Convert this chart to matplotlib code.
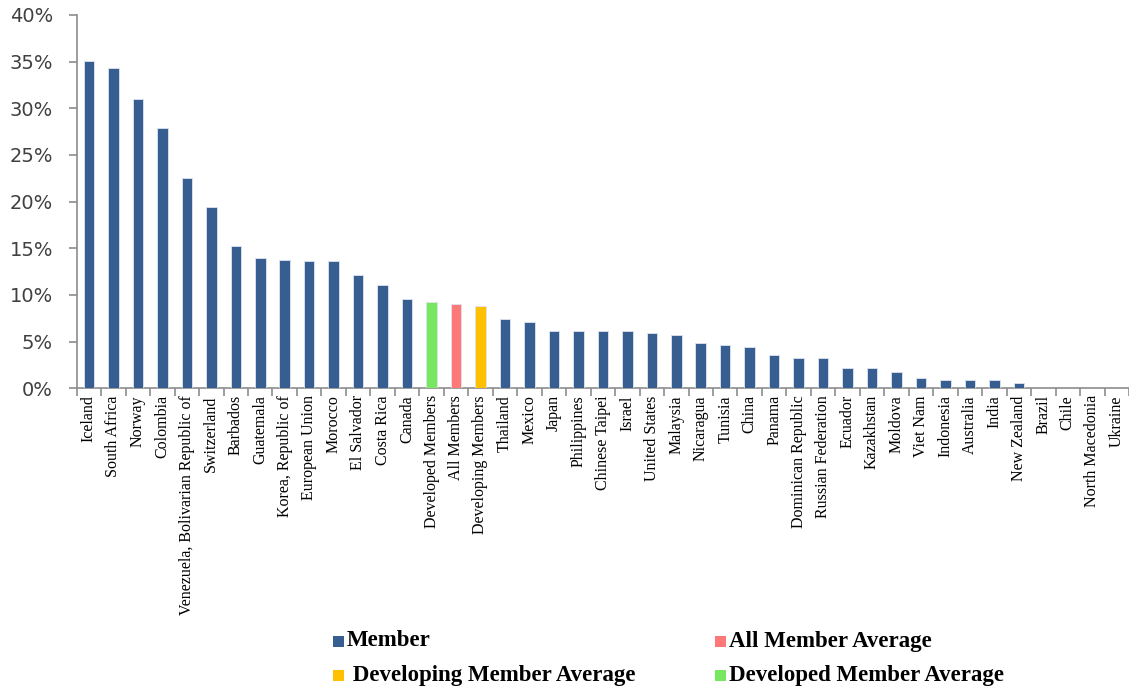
import matplotlib
matplotlib.use("Agg")
import matplotlib.pyplot as plt
from matplotlib.patches import Rectangle
from matplotlib.ticker import PercentFormatter, FixedLocator

categories = ["Iceland", "South Africa", "Norway", "Colombia",
              "Venezuela, Bolivarian Republic of", "Switzerland", "Barbados",
              "Guatemala", "Korea, Republic of", "European Union", "Morocco",
              "El Salvador", "Costa Rica", "Canada", "Developed Members",
              "All Members", "Developing Members", "Thailand", "Mexico", "Japan",
              "Philippines", "Chinese Taipei", "Israel", "United States",
              "Malaysia", "Nicaragua", "Tunisia", "China", "Panama",
              "Dominican Republic", "Russian Federation", "Ecuador", "Kazakhstan",
              "Moldova", "Viet Nam", "Indonesia", "Australia", "India",
              "New Zealand", "Brazil", "Chile", "North Macedonia", "Ukraine"]

values = [35.1, 34.3, 31.0, 27.9, 22.5, 19.4, 15.2, 14.0, 13.8, 13.6, 13.6,
          12.1, 11.1, 9.6, 9.2, 9.0, 8.8, 7.4, 7.15, 6.1, 6.1, 6.1, 6.1, 5.9,
          5.7, 4.9, 4.65, 4.45, 3.6, 3.2, 3.2, 2.15, 2.15, 1.75, 1.15, 0.93,
          0.93, 0.93, 0.55, 0.0, 0.0, 0.0, 0.0]

groups = ["Member"] * 14 + ["Developed", "All", "Developing"] + ["Member"] * 26

group_colors = {"Member": "#365E91", "All": "#FF7878",
                "Developing": "#FFC000", "Developed": "#77E661"}

legend_items = [("Member", "Member"), ("All", "All Member Average"),
                ("Developing", " Developing Member Average"),
                ("Developed", "Developed Member Average")]

W, H = 1129, 690
fig = plt.figure(figsize=(W / 100, H / 100), dpi=100)
ax = fig.add_axes([76.7 / W, 1 - 388.3 / H, (W - 76.7) / W, (388.3 - 15) / H])

x = list(range(len(categories)))
ax.bar(x, [v / 100 for v in values], width=0.43,
       color=[group_colors[g] for g in groups],
       edgecolor="#DDE4EE", linewidth=0.6, zorder=3)

ax.set_xlim(-0.5, len(categories) - 0.5)
ax.set_ylim(0, 0.40)
ax.set_yticks([i * 0.05 for i in range(9)])
ax.yaxis.set_major_formatter(PercentFormatter(1.0, decimals=0))

grey = "#8C8C8C"
for s in ["top", "right"]:
    ax.spines[s].set_visible(False)
for s in ["left", "bottom"]:
    ax.spines[s].set_color(grey)
    ax.spines[s].set_linewidth(1.2)

ax.tick_params(axis="y", direction="out", length=6, width=1.2, color=grey,
               pad=11, labelsize=14, labelcolor="#404040")
ax.set_xticks(x)
ax.set_xticklabels(categories, rotation=90, family="Liberation Serif",
                   fontsize=11.5, color="black", va="top", ha="center")
ax.tick_params(axis="x", which="major", length=0, pad=5)
ax.xaxis.set_minor_locator(FixedLocator([i + 0.5 for i in range(-1, len(categories))]))
ax.tick_params(axis="x", which="minor", direction="out", length=6, width=1.2, color=grey)

# legend (manual layout)
pos = {"Member": (333, 641), "All": (715, 641),
       "Developing": (333, 675), "Developed": (715, 675)}
for key, label in legend_items:
    px, py = pos[key]
    fig.patches.append(Rectangle((px / W, 1 - (py + 5.5) / H), 11 / W, 11 / H,
                                 transform=fig.transFigure, facecolor=group_colors[key],
                                 edgecolor="none"))
    fig.text((px + 14) / W, 1 - py / H, label, family="Liberation Serif",
             fontweight="bold", fontsize=16.5, va="center", ha="left", color="black")

fig.savefig("out.png", dpi=100)
